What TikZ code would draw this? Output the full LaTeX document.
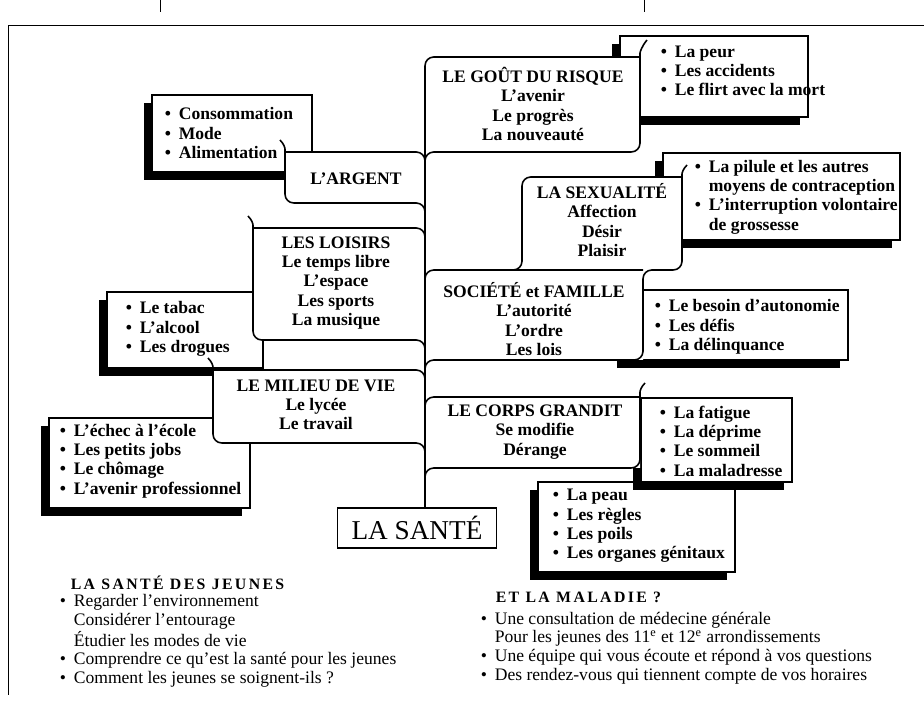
\documentclass[tikz,border=0pt]{standalone}
\usepackage{fontspec}
\setmainfont{Liberation Serif}
\newfontfamily\spaced[LetterSpace=15]{Liberation Serif}
\newcommand{\blt}{\makebox[0.8em][l]{\textbullet}}
\newcommand{\indt}{\hspace*{0.8em}}
% list box with its black shadow
\newcommand{\boxwithshade}[4]{%
  \fill (#1-8,#2+8) rectangle (#3-8,#4+8);
  \filldraw[fill=white] (#1,#2) rectangle (#3,#4);}
\begin{document}
\begin{tikzpicture}[x=0.02cm, y=-0.02cm, fill=black, line width=0.9pt,
    softcorner/.style={rounded corners=5pt},
    cat/.style={font=\bfseries\fontsize{10}{11}\selectfont, align=center},
    items/.style={font=\bfseries\fontsize{10}{11}\selectfont, align=left, anchor=west, inner sep=0pt},
    notes/.style={font=\fontsize{10}{10.6}\selectfont, align=left, anchor=west, inner sep=0pt},
    heading/.style={font=\spaced\bfseries\fontsize{9}{10}\selectfont, anchor=west, inner sep=0pt}]
\useasboundingbox (0,0) rectangle (924,702);
% frame
\draw[line width=0.5pt] (8,695) -- (8,25) -- (924,25)
      (160,0) -- (160,12) (644,0) -- (644,12);
% lists
\boxwithshade{620}{36}{808}{117}
\boxwithshade{152}{95}{312}{172}
\boxwithshade{107}{292}{263}{368}
\boxwithshade{49}{418}{250}{508}
\boxwithshade{663}{153}{900}{240}
\boxwithshade{625}{290}{848}{360}
\boxwithshade{538}{482}{735}{572}
\boxwithshade{641}{398}{792}{482}
% branches
\fill[white] (425,57) rectangle (640,152)
      (285,152) rectangle (425,203)
      (253,228) rectangle (425,340)
      (213,370) rectangle (425,443)
      (522,177) rectangle (682,270)
      (425,270) rectangle (643,360)
      (425,397) rectangle (640,468);
\node[draw, fill=white, font=\fontsize{15.5}{18}\selectfont, minimum width=3.18cm,
      minimum height=0.8cm, inner sep=0pt] (sante) at (417,528) {LA SANTÉ};
\coordinate (top) at (425,66);
\draw (top) -- (top |- sante.north);
\draw[softcorner] (640,57) -- (425,57) -- (425,70);
\draw[softcorner] (425,165) -- (425,152) -- (640,152) -- (640,62) .. controls (640,52) and (642,46) .. (647,40);
\draw[softcorner] (280,140) .. controls (284,144) and (285,148) .. (285,158) -- (285,203) -- (425,203) -- (425,215);
\draw[softcorner] (285,152) -- (425,152) -- (425,164);
\draw[softcorner] (248,216) .. controls (252,220) and (253,224) .. (253,234) -- (253,340) -- (425,340) -- (425,352);
\draw[softcorner] (253,228) -- (425,228) -- (425,240);
\draw[softcorner] (208,358) .. controls (212,362) and (213,366) .. (213,376) -- (213,443) -- (425,443) -- (425,455);
\draw[softcorner] (213,370) -- (425,370) -- (425,382);
\draw[softcorner] (682,177) -- (522,177) -- (522,270) -- (505,270);
\draw[softcorner] (687,165) .. controls (683,169) and (682,173) .. (682,183) -- (682,270) -- (643,270) -- (643,360) -- (425,360) -- (425,372);
\draw[softcorner] (643,270) -- (425,270) -- (425,282);
\draw[softcorner] (645,383) .. controls (641,387) and (640,391) .. (640,401) -- (640,468) -- (425,468) -- (425,480);
\draw[softcorner] (640,397) -- (425,397) -- (425,409);
% texts
\node[cat] (risque) at (533,104) {LE GOÛT DU RISQUE\\L'avenir\\Le progrès\\La nouveauté};
\node[cat] (argent) at (356,179) {L'ARGENT};
\node[cat] (loisirs) at (336,283) {LES LOISIRS\\Le temps libre\\L'espace\\Les sports\\La musique};
\node[cat] (milieu) at (316,405) {LE MILIEU DE VIE\\Le lycée\\Le travail};
\node[cat] (sexe) at (602,220) {LA SEXUALITÉ\\Affection\\Désir\\Plaisir};
\node[cat] (societe) at (534,319) {SOCIÉTÉ et FAMILLE\\L'autorité\\L'ordre\\Les lois};
\node[cat] (corps) at (535,432) {LE CORPS GRANDIT\\Se modifie\\Dérange};
\node[items] (peur) at (660,71) {\blt La peur\\\blt Les accidents\\\blt Le flirt avec la mort};
\node[items] (conso) at (164,133) {\blt Consommation\\\blt Mode\\\blt Alimentation};
\node[items] (tabac) at (125,329) {\blt Le tabac\\\blt L'alcool\\\blt Les drogues};
\node[items] (ecole) at (59,461) {\blt L'échec à l'école\\\blt Les petits jobs\\\blt Le chômage\\\blt L'avenir professionnel};
\node[items] (pilule) at (694,197) {\blt La pilule et les autres\\\indt moyens de contraception\\\blt L'interruption volontaire\\\indt de grossesse};
\node[items] (besoin) at (654,327) {\blt Le besoin d'autonomie\\\blt Les défis\\\blt La délinquance};
\node[items] (fatigue) at (659,441) {\blt La fatigue\\\blt La déprime\\\blt Le sommeil\\\blt La maladresse};
\node[items] (peau) at (552,526) {\blt La peau\\\blt Les règles\\\blt Les poils\\\blt Les organes génitaux};
% below
\node[heading] (jeunes) at (70,583) {LA SANTÉ DES JEUNES};
\node[notes] (buts) at (59,641) {\blt Regarder l'environnement\\\indt Considérer l'entourage\\\indt Étudier les modes de vie\\\blt Comprendre ce qu'est la santé pour les jeunes\\\blt Comment les jeunes se soignent-ils ?};
\node[heading] (maladie) at (495,597) {ET LA MALADIE ?};
\node[notes] (offre) at (480,648) {\blt Une consultation de médecine générale\\\indt Pour les jeunes des 11\textsuperscript{e} et 12\textsuperscript{e} arrondissements\\\blt Une équipe qui vous écoute et répond à vos questions\\\blt Des rendez-vous qui tiennent compte de vos horaires};
\end{tikzpicture}
\end{document}
